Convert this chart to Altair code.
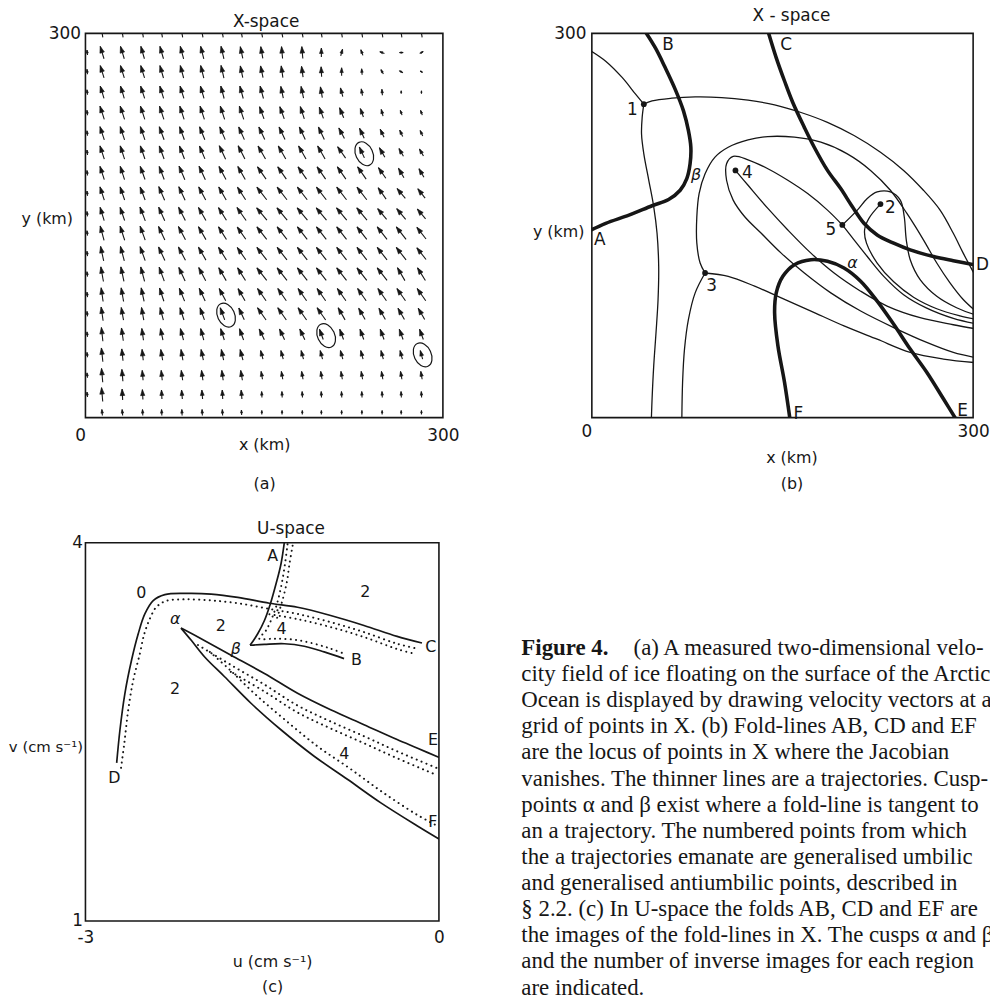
import math
import altair as alt
import pandas as pd

SANS = "DejaVu Sans"
SERIF = "Liberation Serif"
INK = "#161616"

# ---------------- panel sizes (plot areas) ----------------
A_W, A_H = 360, 387
B_W, B_H = 384, 387
C_W, C_H = 356, 381
CAP_W, CAP_H = 472, 456

# ---------------- (a) velocity field in X-space ----------------
A_GRID_X = [14, 31, 48, 64, 81, 98, 115, 131, 148, 165, 182, 198, 215, 232, 249, 265, 282]
A_GRID_Y = [285, 270, 254, 238, 222, 207, 191, 175, 159, 144, 128, 112, 96, 81, 65, 49, 33, 18]
# direction of each vector, degrees anticlockwise from north
A_ANGLE = [
    [17, 17, 16, 16, 15, 14, 13, 12, 10, 5, 5, 0, -15, 20, 70, -90, -60],
    [17, 17, 17, 16, 15, 14, 13, 12, 12, 8, 8, 3, 0, 5, 30, 60, 60],
    [17, 17, 18, 17, 17, 16, 15, 15, 15, 12, 12, 10, 15, 10, 5, 0, 0],
    [18, 18, 18, 18, 18, 18, 18, 18, 20, 20, 18, 20, 22, 20, 15, 20, 20],
    [18, 18, 19, 20, 20, 22, 23, 24, 25, 25, 25, 25, 28, 25, 25, 25, 25],
    [18, 18, 19, 20, 21, 23, 25, 27, 30, 30, 30, 30, 35, 25, 30, 30, 30],
    [18, 18, 20, 21, 23, 25, 28, 30, 35, 35, 35, 35, 35, 35, 35, 30, 30],
    [18, 19, 21, 23, 25, 28, 30, 33, 38, 38, 38, 38, 38, 38, 35, 40, 38],
    [17, 19, 21, 24, 27, 30, 32, 35, 40, 40, 40, 40, 40, 40, 40, 40, 40],
    [15, 18, 20, 25, 28, 30, 32, 35, 38, 38, 38, 38, 38, 38, 38, 38, 38],
    [12, 15, 20, 25, 28, 30, 32, 35, 38, 38, 38, 38, 38, 38, 38, 38, 38],
    [10, 12, 15, 20, 25, 28, 30, 32, 38, 38, 38, 38, 38, 38, 38, 30, 32],
    [8, 10, 12, 18, 22, 25, 28, 30, 35, 35, 35, 35, 35, 35, 35, 35, 35],
    [8, 10, 10, 15, 18, 20, 20, 25, 35, 35, 35, 35, 30, 30, 30, 30, 30],
    [6, 8, 8, 12, 15, 15, 18, 20, 25, 25, 25, 20, 20, 20, 20, 20, 20],
    [6, 6, 6, 10, 10, 12, 12, 15, 15, 15, 15, 15, 15, 15, 15, 15, 15],
    [5, 5, 5, 6, 8, 8, 8, 10, 10, 10, 10, 10, 10, 10, 10, 10, 10],
    [5, 3, 3, 3, 5, 5, 3, 5, 3, 3, 3, 3, 3, 3, 3, 3, 3],
]
# drawn length of each vector (speed)
A_SPEED = [
    [13, 13, 13, 13, 13, 13, 13, 12, 12, 12, 12, 9, 7, 6, 5, 4, 4],
    [13, 13, 13, 13, 13, 13, 13, 12, 12, 12, 11, 10, 8, 6, 5, 4, 3],
    [13, 13, 13, 13, 13, 13, 13, 13, 13, 12, 12, 11, 9, 7, 6, 3, 3],
    [14, 14, 14, 14, 14, 14, 14, 14, 13, 13, 13, 12, 11, 9, 7, 5, 5],
    [14, 14, 14, 14, 14, 14, 14, 14, 14, 14, 14, 14, 12, 11, 9, 7, 6],
    [14, 14, 14, 14, 14, 14, 15, 15, 15, 15, 15, 15, 14, 12, 11, 9, 8],
    [14, 14, 14, 14, 15, 15, 15, 15, 15, 15, 15, 15, 15, 15, 13, 11, 10],
    [14, 14, 14, 15, 15, 15, 15, 15, 16, 16, 16, 16, 16, 16, 14, 13, 12],
    [14, 14, 15, 15, 15, 15, 15, 16, 16, 16, 16, 16, 16, 16, 14, 14, 13],
    [15, 15, 15, 15, 15, 15, 15, 15, 16, 16, 16, 16, 16, 16, 16, 16, 15],
    [15, 15, 15, 15, 15, 15, 15, 15, 16, 16, 16, 16, 16, 16, 16, 16, 15],
    [15, 15, 15, 15, 15, 15, 15, 15, 16, 16, 16, 16, 16, 16, 16, 15, 15],
    [14, 14, 14, 14, 14, 14, 14, 14, 15, 15, 15, 15, 15, 15, 15, 15, 15],
    [14, 13, 13, 13, 13, 13, 13, 13, 15, 15, 15, 15, 14, 13, 13, 13, 13],
    [14, 13, 12, 12, 12, 12, 12, 12, 12, 12, 12, 11, 11, 11, 11, 11, 11],
    [14, 12, 11, 11, 11, 11, 11, 11, 9, 9, 9, 9, 9, 9, 9, 9, 9],
    [14, 12, 10, 10, 10, 10, 10, 10, 8, 8, 8, 8, 8, 8, 8, 8, 8],
    [14, 11, 10, 9, 9, 9, 9, 9, 6, 6, 6, 6, 6, 6, 6, 6, 6],
]
A_BOTTOM_Y = 4
A_BOTTOM_ANGLE = [5, 5, 3, 3, 3, 3, 3, 3, 0, 0, 0, 0, 0, 0, 0, 0, 0]
A_BOTTOM_SPEED = [6, 6, 6, 6, 6, 6, 6, 5, 4, 4, 4, 4, 4, 4, 4, 4, 4]
A_LEFT_X = 1.5
A_LEFT_SPEED = [5, 5, 5, 5, 5, 5, 5, 5, 5, 5, 5, 5, 5, 5, 5, 5, 5, 5]
A_TOP_Y = 300
A_CIRCLE_X = [118, 202, 234, 283]
A_CIRCLE_Y = [80, 64, 206, 49]

# ---------------- (b) fold-lines and a-trajectories in X-space ----------------
B_FOLDS = {
    "AB": [(-2, 145.8), (10.9, 151.7), (29.2, 158.1), (47.4, 165.4), (60.4, 170.3), (69.5, 177.5),
           (74.7, 186.6), (77.3, 198.2), (77.9, 211.1), (76.0, 224.0), (72.1, 239.5), (65.6, 256.3),
           (57.8, 273.1), (50.0, 288.6), (41.6, 302)],
    "CD": [(138.5, 302), (145.1, 280.9), (151.6, 262.8), (158.1, 246.0), (167.2, 226.6), (175.0, 211.1),
           (185.4, 193.0), (195.8, 178.8), (205.0, 164.6), (214.1, 151.7), (224.5, 142.6), (237.5, 136.2),
           (250.5, 131.0), (268.8, 125.8), (284.4, 122.5), (302, 119.1)],
    "EF": [(156, -2), (151.6, 27.6), (146.4, 56.1), (143.8, 81.9), (145.1, 97.4), (150.3, 110.3),
           (159.4, 119.4), (172.4, 123.3), (185.4, 122.0), (198.4, 116.8), (211.5, 106.5), (224.5, 91.0),
           (237.5, 72.9), (250.5, 53.5), (263.5, 35.4), (276.6, 14.7), (287, -2)],
}
B_TRAJ = {
    "t1": [(-1, 286.5), (10.9, 278.3), (24.0, 265.4), (34.4, 252.5), (40.9, 244.7)],
    "t2": [(40.9, 244.7), (47.4, 247.3), (63.0, 249.4), (81.3, 250.4), (102.1, 249.9), (122.9, 247.8),
           (143.8, 244.2), (164.6, 238.2), (185.4, 230.5), (206.3, 220.2), (227.1, 207.2), (245.3, 193.0),
           (260.9, 177.5), (274.0, 162.0), (284.4, 143.9), (292.2, 128.4), (301, 112)],
    "t3": [(40.9, 244.7), (39.6, 234.4), (39.1, 221.4), (40.9, 205.9), (44.8, 185.3), (48.7, 164.6),
           (51.3, 143.9), (52.6, 118.1), (52.1, 92.2), (50.5, 66.4), (48.7, 40.6), (47.4, 14.7), (46.8, -2)],
    "t4": [(89.1, 112.9), (85.2, 120.7), (82.6, 136.2), (82.6, 156.8), (84.4, 174.9), (89.1, 190.4),
           (96.9, 203.4), (107.3, 211.1), (122.9, 216.8), (138.5, 219.4), (159.4, 218.9), (180.2, 215.0),
           (201.0, 205.9), (219.3, 193.0), (234.9, 177.5), (247.9, 159.4), (260.9, 138.8), (271.4, 120.7),
           (281.8, 105.2), (292.2, 92.2), (301, 84)],
    "t5": [(89.1, 112.9), (81.3, 97.4), (76.0, 76.7), (72.9, 53.5), (71.4, 27.6), (70.8, -2)],
    "t6": [(89.1, 112.9), (107.3, 110.3), (128.1, 102.6), (149.0, 93.5), (172.4, 83.2), (198.4, 71.6),
           (224.5, 61.2), (250.5, 50.9), (276.6, 45.7), (301, 43)],
    "t7": [(197.1, 150.4), (185.4, 162.0), (169.8, 174.9), (154.2, 185.3), (138.5, 194.3), (122.9, 201.3),
           (111.2, 203.9), (106.0, 198.2), (106.0, 185.3), (111.2, 169.8), (120.3, 156.8), (133.3, 143.9),
           (149.0, 128.4), (167.2, 112.9), (188.0, 97.4), (211.5, 83.2), (237.5, 70.3), (263.5, 58.7),
           (284.4, 50.9), (301, 47)],
    "t8": [(113.0, 193.0), (122.9, 181.4), (138.5, 163.3), (154.2, 146.5), (172.4, 128.4), (190.6, 112.9),
           (211.5, 98.7), (232.3, 87.1), (258.3, 78.0), (284.4, 72.5), (301, 69.5)],
    "t9": [(197.1, 150.4), (206.3, 138.8), (216.7, 125.8), (229.7, 110.3), (245.3, 96.0), (263.5, 85.5),
           (284.4, 77.5), (301, 73.5)],
    "t10": [(197.1, 150.4), (208.9, 162.0), (216.7, 171.1), (224.5, 176.2), (234.9, 176.2), (242.7, 169.8),
            (245.8, 156.8), (247.4, 138.8), (250.5, 123.3), (258.3, 107.8), (271.4, 94.8), (287.0, 85.8),
            (301, 80.5)],
    "t11": [(227.1, 166.7), (218.0, 155.6), (214.6, 146.5), (216.1, 136.2), (224.5, 120.7), (237.5, 106.0),
            (253.1, 94.0), (271.4, 85.0), (289.6, 79.5), (301, 77)],
}
B_POINTS = [(40.9, 244.7), (227.1, 166.7), (89.1, 112.9), (113.0, 193.0), (197.1, 150.4)]
B_LABELS = [("1", 31.8, 240.5), ("2", 234.9, 163.3), ("3", 94.3, 102.6), ("4", 122.4, 191.0),
            ("5", 188.0, 146.5), ("A", 6.3, 138.8), ("B", 59.9, 291.2), ("C", 152.9, 291.2),
            ("D", 307.3, 119.4), ("E", 291.7, 4.9), ("F", 162.5, 3.1)]
B_GREEK = [("β", 82.0, 189.1), ("α", 205.0, 120.7)]

# ---------------- (c) folds in U-space ----------------
C_SOLID = {
    "CD": [(-2.735, 2.254), (-2.707, 2.517), (-2.665, 2.806), (-2.609, 3.068), (-2.552, 3.278),
           (-2.496, 3.435), (-2.425, 3.541), (-2.326, 3.588), (-2.157, 3.598), (-1.933, 3.593),
           (-1.707, 3.567), (-1.439, 3.520), (-1.200, 3.488), (-0.919, 3.423), (-0.636, 3.344),
           (-0.355, 3.257), (-0.144, 3.205)],
    "Abeta": [(-1.308, 4.03), (-1.341, 3.829), (-1.383, 3.672), (-1.431, 3.514), (-1.481, 3.383),
              (-1.538, 3.278), (-1.603, 3.187)],
    "betaB": [(-1.603, 3.187), (-1.481, 3.194), (-1.312, 3.199), (-1.143, 3.179), (-0.974, 3.134),
              (-0.805, 3.081)],
    "alphaE": [(-2.189, 3.323), (-2.045, 3.252), (-1.764, 3.108), (-1.481, 2.963), (-1.200, 2.806),
               (-0.919, 2.675), (-0.636, 2.557), (-0.355, 2.439), (-0.186, 2.372), (0.02, 2.29)],
    "alphaF": [(-2.189, 3.323), (-2.102, 3.226), (-1.988, 3.094), (-1.819, 2.937), (-1.595, 2.727),
               (-1.341, 2.517), (-1.059, 2.307), (-0.777, 2.124), (-0.496, 1.939), (-0.186, 1.756),
               (0.02, 1.64)],
}
C_DOTTED = {
    "CD1": [(-2.698, 2.215), (-2.670, 2.412), (-2.637, 2.675), (-2.594, 2.911), (-2.538, 3.121),
            (-2.501, 3.276), (-2.451, 3.402), (-2.400, 3.488), (-2.315, 3.539), (-2.155, 3.551),
            (-1.935, 3.543), (-1.707, 3.520), (-1.439, 3.475), (-1.200, 3.435), (-0.919, 3.370),
            (-0.636, 3.291), (-0.355, 3.199), (-0.186, 3.160)],
    "CD2": [(-1.439, 3.433), (-1.200, 3.394), (-0.919, 3.331), (-0.636, 3.252), (-0.355, 3.157),
            (-0.203, 3.118)],
    "AB": [(-1.285, 3.987), (-1.307, 3.829), (-1.335, 3.672), (-1.375, 3.514), (-1.420, 3.396),
           (-1.468, 3.304), (-1.524, 3.239), (-1.397, 3.239), (-1.228, 3.231), (-1.059, 3.199),
           (-0.919, 3.160), (-0.805, 3.120)],
    "AB2": [(-1.242, 3.976), (-1.268, 3.835), (-1.293, 3.677), (-1.335, 3.520), (-1.377, 3.394)],
    "E": [(-2.045, 3.189), (-1.766, 3.031), (-1.479, 2.874), (-1.200, 2.709), (-0.921, 2.583),
          (-0.634, 2.465), (-0.355, 2.346), (-0.017, 2.213)],
    "E2": [(-1.766, 2.976), (-1.479, 2.819), (-1.200, 2.654), (-0.921, 2.528), (-0.634, 2.409),
           (-0.355, 2.291), (-0.017, 2.157)],
    "F": [(-1.944, 3.134), (-1.775, 2.992), (-1.555, 2.795), (-1.310, 2.598), (-1.031, 2.386),
          (-0.761, 2.213), (-0.482, 2.024), (-0.186, 1.843), (-0.017, 1.756)],
}
C_LABELS = [("0", -2.527, 3.598), ("2", -0.625, 3.606), ("2", -1.851, 3.339), ("4", -1.335, 3.315),
            ("2", -2.239, 2.843), ("4", -0.803, 2.323), ("A", -1.411, 3.898), ("B", -0.701, 3.071),
            ("C", -0.068, 3.173), ("D", -2.755, 2.134), ("E", -0.051, 2.433), ("F", -0.051, 1.787)]
C_GREEK = [("α", -2.239, 3.394), ("β", -1.724, 3.157)]

# ---------------- caption ----------------
CAPTION_HEAD = "Figure 4."
CAPTION_FIRST = "(a) A measured two-dimensional velo-"
CAPTION_LINES = [
    "city field of ice floating on the surface of the Arctic",
    "Ocean is displayed by drawing velocity vectors at a",
    "grid of points in X.  (b) Fold-lines AB, CD and EF",
    "are the locus of points in X where the Jacobian",
    "vanishes. The thinner lines are a trajectories. Cusp-",
    "points α and β exist where a fold-line is tangent to",
    "an a trajectory.  The numbered points from which",
    "the a trajectories emanate are generalised umbilic",
    "and generalised antiumbilic points, described in",
    "§ 2.2.  (c) In U-space the folds AB, CD and EF are",
    "the images of the fold-lines in X.  The cusps α and β",
    "and the number of inverse images for each region",
    "are indicated.",
]


# =====================================================================
def curves_df(curves):
    rows = []
    for name, pts in curves.items():
        for i, (x, y) in enumerate(pts):
            rows.append({"curve": name, "i": i, "x": x, "y": y})
    return pd.DataFrame(rows)


def label_df(items):
    return pd.DataFrame([{"t": t, "x": x, "y": y} for t, x, y in items])


def title(text, dy, dx):
    return alt.TitleParams(text, font=SANS, fontSize=17, fontWeight="normal", color=INK,
                           offset=0, dx=dx, dy=dy, frame="group", baseline="middle")


def x_axis(values, title_lines, tx, ty, lh, pad, zero_right=True, expr=None):
    kw = dict(values=values, title=title_lines, grid=False, ticks=False, tickSize=0, domain=False,
              labelFont=SANS, labelFontSize=17, labelColor=INK, labelPadding=pad, labelFlush=False,
              labelOverlap=False,
              titleFont=SANS, titleFontSize=16, titleFontWeight="normal", titleColor=INK,
              titleX=tx, titleY=ty, titleAlign="center", titleBaseline="top", titleAngle=0,
              titleLineHeight=lh)
    if zero_right:
        kw["labelAlign"] = {"condition": {"test": "datum.value === 0", "value": "right"},
                            "value": "center"}
    if expr:
        kw["labelExpr"] = expr
    return alt.Axis(**kw)


def y_axis(values, title_text, tx, ty, pad, tsize=16):
    return alt.Axis(values=values, title=title_text, grid=False, ticks=False, tickSize=0, domain=False,
                    labelFont=SANS, labelFontSize=17, labelColor=INK, labelPadding=pad,
                    labelOverlap=False,
                    titleFont=SANS, titleFontSize=tsize, titleFontWeight="normal", titleColor=INK,
                    titleX=tx, titleY=ty, titleAlign="right", titleBaseline="middle", titleAngle=0)


# ---------------- panel (a) ----------------
KX, KY = A_W / 300.0, A_H / 300.0  # px per km
shafts, heads = [], []


def add_arrow(xk, yk, ang, ln, with_head=True):
    a = math.radians(ang)
    dxk = -ln * math.sin(a) / KX
    dyk = ln * math.cos(a) / KY
    shafts.append({"x": xk - dxk / 2, "y": yk - dyk / 2, "x2": xk + dxk / 2, "y2": yk + dyk / 2})
    if with_head:
        hl = min(6.5, 0.6 * ln)
        f = 0.5 - (hl / 1.75) / ln
        heads.append({"x": xk + f * dxk, "y": yk + f * dyk,
                      "rot": (360 - ang) % 360, "hs": (hl / 0.875) ** 2})


for r, yk in enumerate(A_GRID_Y):
    for c, xk in enumerate(A_GRID_X):
        add_arrow(xk, yk, A_ANGLE[r][c], A_SPEED[r][c])
for c, xk in enumerate(A_GRID_X):
    add_arrow(xk, A_BOTTOM_Y, A_BOTTOM_ANGLE[c], A_BOTTOM_SPEED[c])
    shafts.append({"x": xk, "y": A_TOP_Y, "x2": xk + 0.6, "y2": A_TOP_Y - 3.2})
for r, yk in enumerate(A_GRID_Y):
    add_arrow(A_LEFT_X, yk, 6, A_LEFT_SPEED[r])

shaft_df = pd.DataFrame(shafts)
head_df = pd.DataFrame(heads)
circ_df = pd.DataFrame({"x": A_CIRCLE_X, "y": A_CIRCLE_Y})

AX_A_X = x_axis([0, 300], ["x (km)", "(a)"], 180, 19, 39, 10)
AX_A_Y = y_axis([300], "y (km)", -13, 187, 5)
SX = alt.Scale(domain=[0, 300], nice=False, zero=False)
SY = alt.Scale(domain=[0, 300], nice=False, zero=False)

HEAD = "M0,-1L0.62,0.75L-0.62,0.75Z"
ELLIPSE = "M0,-1A0.68,1 0 1,1 0,1A0.68,1 0 1,1 0,-1Z"

a_shaft = alt.Chart(shaft_df).mark_rule(color=INK, strokeWidth=1.1).encode(
    x=alt.X("x:Q", scale=SX, axis=AX_A_X), y=alt.Y("y:Q", scale=SY, axis=AX_A_Y),
    x2="x2:Q", y2="y2:Q")
a_head = alt.Chart(head_df).mark_point(shape=HEAD, filled=True, fill=INK, stroke=INK, opacity=1,
                                       fillOpacity=1, strokeWidth=0.6).encode(
    x=alt.X("x:Q", scale=SX, axis=AX_A_X), y=alt.Y("y:Q", scale=SY, axis=AX_A_Y),
    angle=alt.Angle("rot:Q", scale=None), size=alt.Size("hs:Q", scale=None))
a_circ = alt.Chart(circ_df).mark_point(shape=ELLIPSE, filled=False, color=INK, opacity=1,
                                       strokeWidth=1.2, size=640, angle=335).encode(
    x=alt.X("x:Q", scale=SX, axis=AX_A_X), y=alt.Y("y:Q", scale=SY, axis=AX_A_Y))

panel_a = alt.layer(a_shaft, a_head, a_circ).properties(
    width=A_W, height=A_H, title=title("X-space", 15, 2))

# ---------------- panel (b) ----------------
AX_B_X = x_axis([0, 300], ["x (km)", "(b)"], 201, 32, 26, 6)
AX_B_Y = y_axis([300], "y (km)", -8, 200, 6)


def bx():
    return alt.X("x:Q", scale=SX, axis=AX_B_X)


def by():
    return alt.Y("y:Q", scale=SY, axis=AX_B_Y)


b_thin = alt.Chart(curves_df(B_TRAJ)).mark_line(color=INK, strokeWidth=1.3, interpolate="catmull-rom",
                                                 clip=True).encode(
    x=bx(), y=by(), detail="curve:N", order="i:Q")
b_thick = alt.Chart(curves_df(B_FOLDS)).mark_line(color=INK, strokeWidth=3.6, interpolate="catmull-rom",
                                                   clip=True).encode(
    x=bx(), y=by(), detail="curve:N", order="i:Q")
b_pts = alt.Chart(pd.DataFrame(B_POINTS, columns=["x", "y"])).mark_circle(
    color=INK, opacity=1, size=34).encode(x=bx(), y=by())
b_lab = alt.Chart(label_df(B_LABELS)).mark_text(font=SANS, fontSize=17, color=INK).encode(
    x=bx(), y=by(), text="t:N")
b_greek = alt.Chart(label_df(B_GREEK)).mark_text(font=SANS, fontSize=16, fontStyle="italic",
                                                  color=INK).encode(x=bx(), y=by(), text="t:N")
panel_b = alt.layer(b_thin, b_thick, b_pts, b_lab, b_greek).properties(
    width=B_W, height=B_H, title=title("X - space", 9, 9))

# ---------------- panel (c) ----------------
AX_C_X = x_axis([-3, 0], ["u (cm s⁻¹)", "(c)"], 188, 33, 25, 9, zero_right=False,
                expr="datum.value == -3 ? '-3' : datum.label")
AX_C_Y = y_axis([1, 4], "v (cm s⁻¹)", -3, 205, 3, tsize=15)
SU = alt.Scale(domain=[-3, 0], nice=False, zero=False)
SV = alt.Scale(domain=[1, 4], nice=False, zero=False)


def cx():
    return alt.X("x:Q", scale=SU, axis=AX_C_X)


def cy():
    return alt.Y("y:Q", scale=SV, axis=AX_C_Y)


c_solid = alt.Chart(curves_df(C_SOLID)).mark_line(color=INK, strokeWidth=1.7, interpolate="catmull-rom",
                                                   clip=True).encode(
    x=cx(), y=cy(), detail="curve:N", order="i:Q")
c_dot = alt.Chart(curves_df(C_DOTTED)).mark_line(color=INK, strokeWidth=2.0, strokeDash=[0.1, 5.2],
                                                  strokeCap="round", interpolate="catmull-rom",
                                                  clip=True).encode(
    x=cx(), y=cy(), detail="curve:N", order="i:Q")
c_lab = alt.Chart(label_df(C_LABELS)).mark_text(font=SANS, fontSize=16, color=INK).encode(
    x=cx(), y=cy(), text="t:N")
c_greek = alt.Chart(label_df(C_GREEK)).mark_text(font=SANS, fontSize=16, fontStyle="italic",
                                                  color=INK).encode(x=cx(), y=cy(), text="t:N")
panel_c = alt.layer(c_solid, c_dot, c_lab, c_greek).properties(
    width=C_W, height=C_H, title=title("U-space", 12, 29))

# ---------------- caption ----------------
CAP_SCALE = alt.Scale(domain=[-4.029, 13.304], reverse=True, nice=False, zero=False)
cap_body = pd.DataFrame({"i": list(range(1, len(CAPTION_LINES) + 1)), "t": CAPTION_LINES})
cap_head = pd.DataFrame({"i": [0], "t": [CAPTION_HEAD]})
cap_first = pd.DataFrame({"i": [0], "t": [CAPTION_FIRST]})


def cap_layer(df, bold=False, dx=0):
    return alt.Chart(df).mark_text(align="left", baseline="middle", font=SERIF, fontSize=23,
                                   fontWeight="bold" if bold else "normal", color=INK,
                                   clip=True, dx=dx).encode(
        x=alt.value(0), y=alt.Y("i:Q", scale=CAP_SCALE, axis=None), text="t:N")


caption = alt.layer(cap_layer(cap_head, bold=True), cap_layer(cap_first, dx=113),
                    cap_layer(cap_body)).properties(
    width=CAP_W, height=CAP_H, view=alt.ViewBackground(strokeWidth=0, stroke="transparent"))

row1 = alt.hconcat(panel_a, panel_b, spacing=150, bounds="flush")
row2 = alt.hconcat(panel_c, caption, spacing=83, bounds="flush")
chart = alt.vconcat(row1, row2, spacing=513, bounds="flush").properties(
    padding={"left": -1, "top": -5, "right": 0, "bottom": 0},
    background="white",
).configure_view(stroke=INK, strokeWidth=1.6)

chart.save("out.html", embed_options={"renderer": "svg", "actions": False})
